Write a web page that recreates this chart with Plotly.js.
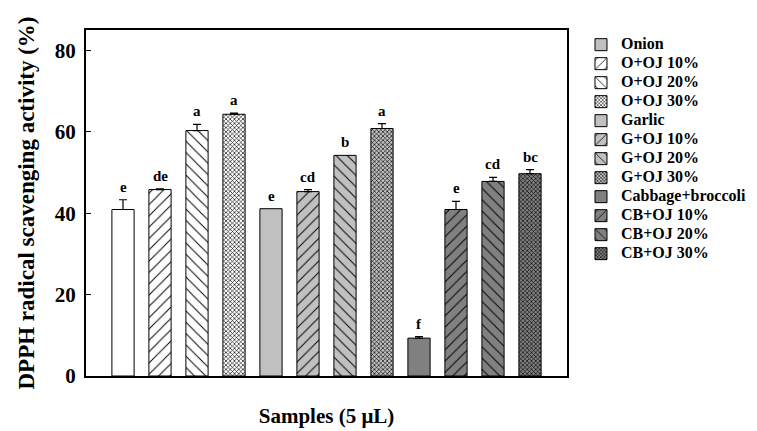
<!DOCTYPE html>
<html>
<head>
<meta charset="utf-8">
<script src="https://cdn.plot.ly/plotly-3.0.1.min.js"></script>
<style>
  html, body { margin: 0; padding: 0; background: #fff; }
  #chart { width: 757px; height: 431px; }
</style>
</head>
<body>
<div id="chart"></div>
<script>
// samples, in drawing order
const samples = ['Onion', 'O+OJ 10%', 'O+OJ 20%', 'O+OJ 30%',
                 'Garlic', 'G+OJ 10%', 'G+OJ 20%', 'G+OJ 30%',
                 'Cabbage+broccoli', 'CB+OJ 10%', 'CB+OJ 20%', 'CB+OJ 30%'];
// DPPH radical scavenging activity (%)
const activity = [40.9, 45.8, 60.3, 64.3, 41.1, 45.3, 54.2, 60.8, 9.3, 40.9, 47.8, 49.7];
// upper error (SD)
const errUp = [2.4, 0.2, 1.5, 0.3, 0.0, 0.5, 0.0, 1.2, 0.4, 2.0, 1.0, 1.0];
// significance letters
const letters = ['e', 'de', 'a', 'a', 'e', 'cd', 'b', 'a', 'f', 'e', 'cd', 'bc'];

// fill colours / hatch per sample
const fills = ['#ffffff', '#ffffff', '#ffffff', '#ffffff',
               '#c0c0c0', '#c0c0c0', '#c0c0c0', '#c0c0c0',
               '#808080', '#808080', '#808080', '#808080'];
const hatch = ['', '/', '\\', 'x', '', '/', '\\', 'x', '', '/', '\\', 'x'];
const onionLegendFill = '#c0c0c0';

const serif = 'Liberation Serif, Times New Roman, serif';

function patternFor(i) {
    if (!hatch[i]) return { shape: '' };
    if (hatch[i] === 'x') return { shape: 'x', fgcolor: '#000', bgcolor: fills[i], size: 3, solidity: 0.38 };
    return { shape: hatch[i], fgcolor: '#000', bgcolor: fills[i], size: 8, solidity: 0.12 };
}

// legend labels are drawn larger than the legend row spacing
const legendName = s => '<span style="font-size:16px">' + s + '</span>';

const traces = [];
samples.forEach((name, i) => {
    if (i === 0) {
        // legend swatch for Onion is grey in the original figure
        traces.push({
            type: 'bar', name: legendName(name), x: [null], y: [null],
            marker: { color: onionLegendFill, line: { color: '#000', width: 1 } },
            hoverinfo: 'skip'
        });
    }
    traces.push({
        type: 'bar',
        name: legendName(name),
        x: [i],
        y: [activity[i]],
        width: 0.6,
        showlegend: i !== 0,
        marker: { color: fills[i], line: { color: '#000', width: 1 }, pattern: patternFor(i) },
        error_y: {
            type: 'data', symmetric: false,
            array: [errUp[i]], arrayminus: [0],
            visible: errUp[i] > 0,
            color: '#000', thickness: 1.2, width: 4
        }
    });
});

const annotations = letters.map((t, i) => ({
    x: i, y: activity[i] + errUp[i],
    text: '<b>' + t + '</b>',
    showarrow: false, yanchor: 'bottom', yshift: 3,
    font: { family: serif, size: 15, color: '#000' }
}));

const layout = {
    width: 757, height: 431,
    margin: { l: 86, r: 190, t: 30, b: 55 },
    paper_bgcolor: '#fff', plot_bgcolor: '#fff',
    barmode: 'overlay',
    showlegend: true,
    legend: {
        xref: 'container', yref: 'container',
        x: 0.7675, xanchor: 'left', y: 0.93, yanchor: 'top',
        maxheight: 400,
        font: { family: serif, size: 10, color: '#000', weight: 'bold' },
        tracegroupgap: 0, bgcolor: 'rgba(0,0,0,0)'
    },
    xaxis: {
        range: [-1, 12],
        showticklabels: false, ticks: '',
        showgrid: false, zeroline: false,
        showline: true, linecolor: '#000', linewidth: 2, mirror: true,
        title: { text: '<b>Samples (5 μL)</b>', font: { family: serif, size: 21, color: '#000' }, standoff: 31 }
    },
    yaxis: {
        range: [0, 85],
        tickvals: [0, 20, 40, 60, 80],
        ticks: 'inside', ticklen: 5, tickwidth: 1, tickcolor: '#000',
        ticklabelstandoff: 4,
        tickfont: { family: serif, size: 21, color: '#000', weight: 'bold' },
        showgrid: false, zeroline: false,
        showline: true, linecolor: '#000', linewidth: 2, mirror: true,
        title: { text: '<b>DPPH radical scavenging activity (%)</b>', font: { family: serif, size: 23, color: '#000' }, standoff: 14 }
    },
    annotations: annotations
};

Plotly.newPlot('chart', traces, layout, { displayModeBar: false, staticPlot: true });
</script>
</body>
</html>
